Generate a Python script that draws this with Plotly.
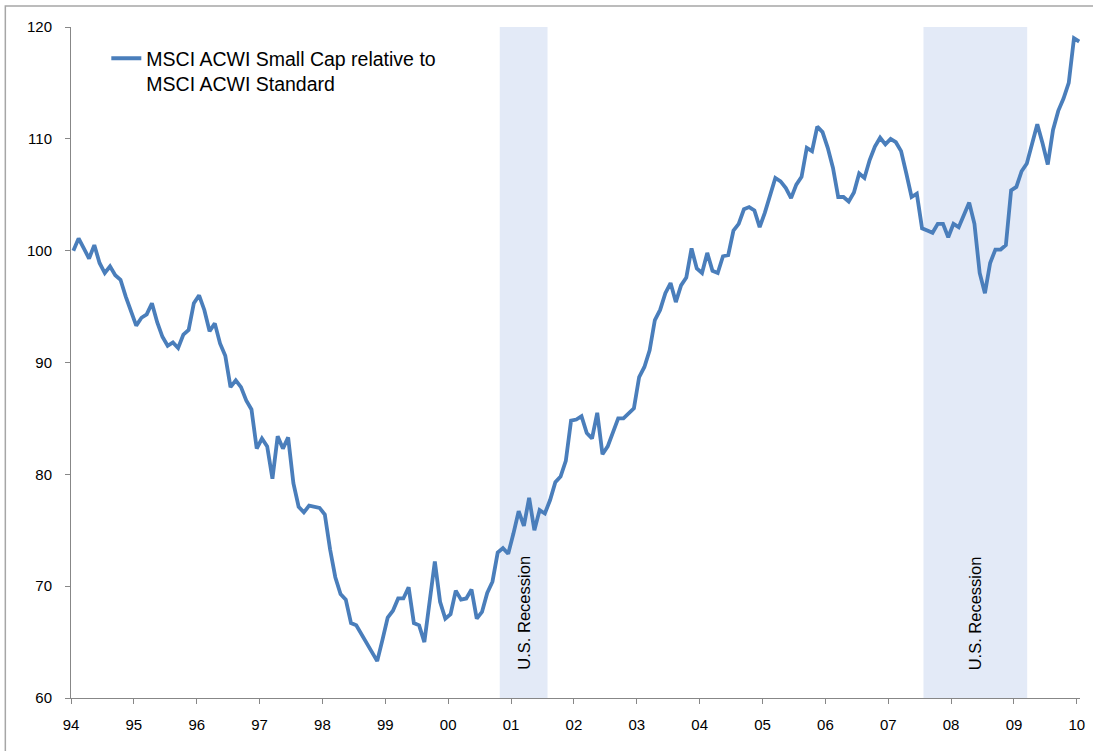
import plotly.graph_objects as go

# monthly index level, Jan 1994 .. Jan 2010
values = [
    100.0, 101.1, 100.2, 99.3, 100.5, 98.9, 98.0, 98.6, 97.8, 97.4, 95.9, 94.6,   # 94
    93.3, 94.0, 94.3, 95.3, 93.6, 92.3, 91.5, 91.8, 91.3, 92.5, 92.9, 95.3,       # 95
    96.0, 94.7, 92.8, 93.5, 91.7, 90.6, 87.8, 88.4, 87.8, 86.6, 85.8, 82.3,       # 96
    83.2, 82.5, 79.6, 83.4, 82.3, 83.3, 79.2, 77.1, 76.6, 77.2, 77.1, 77.0,       # 97
    76.4, 73.3, 70.8, 69.3, 68.8, 66.7, 66.5, 65.7, 64.8, 64.0, 63.3, 65.2,       # 98
    67.2, 67.8, 68.9, 68.9, 69.9, 66.7, 66.5, 65.0, 68.5, 72.2, 68.6, 67.1,       # 99
    67.5, 69.6, 68.8, 68.9, 69.7, 67.1, 67.7, 69.4, 70.4, 73.0, 73.4, 72.9,       # 00
    74.7, 76.7, 75.4, 77.9, 75.0, 76.8, 76.5, 77.7, 79.3, 79.8, 81.2, 84.8,       # 01
    84.9, 85.2, 83.7, 83.2, 85.5, 81.8, 82.5, 83.7, 85.0, 85.0, 85.5, 85.9,       # 02
    88.7, 89.6, 91.1, 93.8, 94.7, 96.2, 97.1, 95.4, 96.9, 97.6, 100.2, 98.4,      # 03
    98.0, 99.8, 98.2, 98.0, 99.5, 99.6, 101.8, 102.4, 103.7, 103.9, 103.6, 102.1, # 04
    103.4, 105.1, 106.5, 106.2, 105.6, 104.7, 105.9, 106.6, 109.2, 108.9, 111.1, 110.6,  # 05
    109.2, 107.4, 104.8, 104.8, 104.4, 105.2, 106.9, 106.5, 108.1, 109.3, 110.1, 109.5,  # 06
    110.0, 109.7, 108.9, 106.9, 104.8, 105.1, 102.0, 101.8, 101.6, 102.4, 102.4, 101.2,  # 07
    102.4, 102.1, 103.2, 104.3, 102.4, 98.0, 96.2, 98.9, 100.1, 100.1, 100.5, 105.4,     # 08
    105.7, 107.1, 107.8, 109.4, 111.3, 109.6, 107.7, 110.8, 112.5, 113.6, 115.0, 119.0,  # 09
    118.7,                                                                              # 10
]
months = [1994 + (i + 0.45) / 12 for i in range(len(values))]

year_ticks = list(range(1994, 2011))
year_labels = [str(y)[2:] for y in year_ticks]

recessions = [(2000.82, 2001.58), (2007.56, 2009.21)]
recession_label = "U.S. Recession"

FONT = "Liberation Sans, Arial, sans-serif"
AXIS_GREY = "#878787"

fig = go.Figure()

fig.add_trace(go.Scatter(
    x=months,
    y=values,
    mode="lines",
    name="MSCI ACWI Small Cap relative to<br>MSCI ACWI Standard",
    line=dict(color="#4A7EBB", width=3.8),
))

for x0, x1 in recessions:
    fig.add_shape(type="rect", xref="x", yref="y", x0=x0, x1=x1, y0=60, y1=120,
                  fillcolor="#E3EAF7", line=dict(width=0), layer="below")
    fig.add_annotation(x=(x0 + x1) / 2, y=67.6, text=recession_label, textangle=-90,
                       showarrow=False, font=dict(family=FONT, size=16.5, color="#000000"))

# frame around the picture (only top and left edges are visible)
fig.add_shape(type="rect", xref="paper", yref="paper",
              x0=-66 / 1014, x1=1.2, y0=(671 + 21) / 671, y1=-0.2,
              line=dict(color="#A6A6A6", width=1.5), fillcolor="rgba(0,0,0,0)")

fig.update_layout(
    width=1093,
    height=751,
    margin=dict(l=71, r=8, t=27, b=53),
    plot_bgcolor="white",
    paper_bgcolor="white",
    font=dict(family=FONT, size=15, color="#000000"),
    showlegend=True,
    legend=dict(
        x=0.035, y=0.982, xanchor="left", yanchor="top",
        font=dict(family=FONT, size=19.5, color="#000000"),
        bgcolor="rgba(0,0,0,0)",
        valign="top",
    ),
    xaxis=dict(
        range=[1994, 2010.05],
        tickmode="array",
        tickvals=year_ticks,
        ticktext=year_labels,
        showgrid=False,
        zeroline=False,
        showline=True,
        linecolor=AXIS_GREY,
        linewidth=1,
        ticks="outside",
        ticklen=5,
        tickcolor=AXIS_GREY,
        ticklabelstandoff=8,
        tickfont=dict(family=FONT, size=15, color="#000000"),
    ),
    yaxis=dict(
        range=[60, 120],
        tickvals=[60, 70, 80, 90, 100, 110, 120],
        showgrid=False,
        zeroline=False,
        showline=True,
        linecolor=AXIS_GREY,
        linewidth=1,
        ticks="outside",
        ticklen=5,
        tickcolor=AXIS_GREY,
        ticklabelstandoff=10,
        tickfont=dict(family=FONT, size=15, color="#000000"),
    ),
)

# the page body has an 8px default margin; remove it so the figure sits at 0,0
fig.write_html("out.html", config={"displayModeBar": False},
               post_script="document.body.style.margin='0';")
